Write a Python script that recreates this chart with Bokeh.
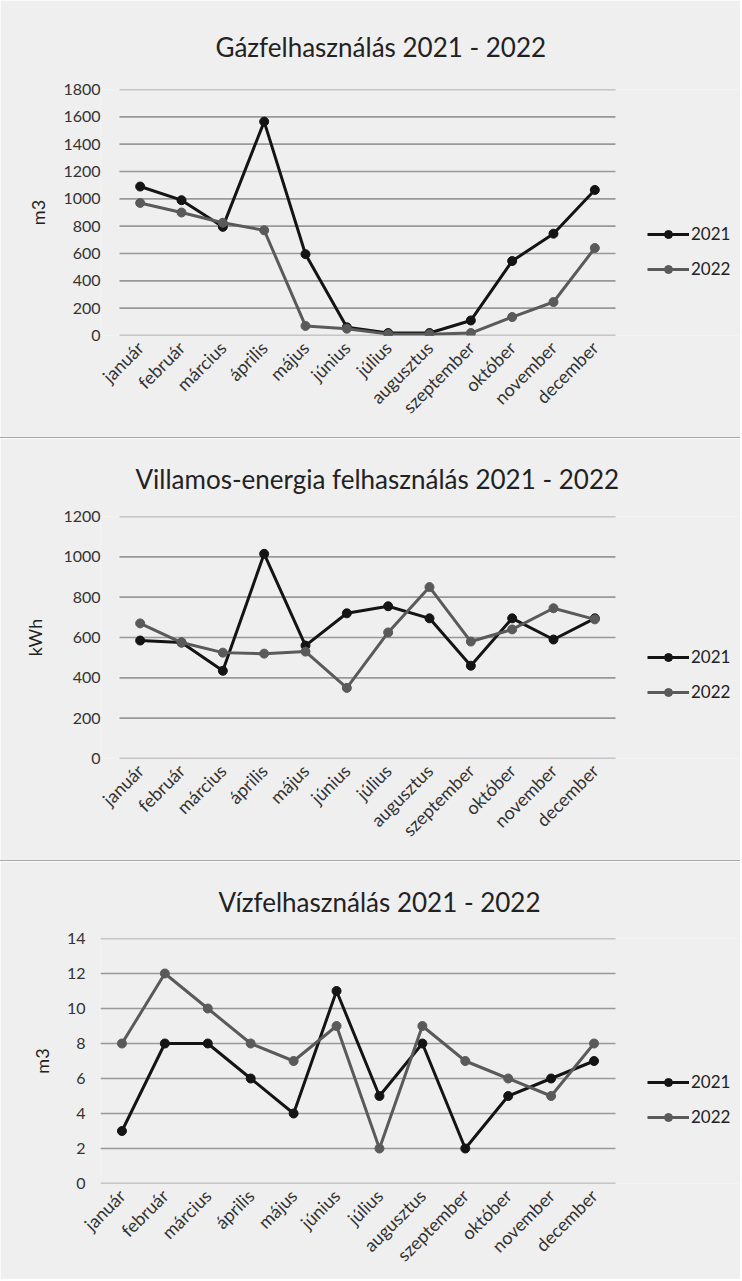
from bokeh.plotting import figure
from bokeh.models import Range1d, FixedTicker, Legend, LegendItem
from bokeh.layouts import column
from bokeh.embed import file_html
from bokeh.resources import INLINE
from math import pi

months = ["január", "február", "március", "április", "május", "június",
          "július", "augusztus", "szeptember", "október", "november", "december"]

gas_2021 = [1090, 990, 795, 1565, 595, 60, 18, 18, 110, 545, 745, 1065]
gas_2022 = [970, 900, 825, 770, 70, 50, 10, 10, 18, 135, 245, 640]

elec_2021 = [585, 575, 435, 1015, 560, 720, 755, 695, 460, 695, 590, 695]
elec_2022 = [670, 575, 525, 520, 530, 350, 625, 850, 580, 640, 745, 690]

water_2021 = [3, 8, 8, 6, 4, 11, 5, 8, 2, 5, 6, 7]
water_2022 = [8, 12, 10, 8, 7, 9, 2, 9, 7, 6, 5, 8]

gas_ticks = [0, 200, 400, 600, 800, 1000, 1200, 1400, 1600, 1800]
elec_ticks = [0, 200, 400, 600, 800, 1000, 1200]
water_ticks = [0, 2, 4, 6, 8, 10, 12, 14]

titles = ["Gázfelhasználás 2021 - 2022",
          "Villamos-energia felhasználás 2021 - 2022",
          "Vízfelhasználás 2021 - 2022"]
units = ["m3", "kWh", "m3"]
series_names = ["2021", "2022"]

FONT = "Lato"
BG = "#efefef"
C21 = "#141414"
C22 = "#5a5a5a"
W = 740
FRAME_LEFT = 100
PLOT_RIGHT = 615  # x of right end of the gridlines


def make_chart(title, unit, s21, s22, ticks, height, data_left, b_top, b_bottom,
               title_left, standoff, lab_standoff, tick_standoff, top_border):
    xs = list(range(1, len(months) + 1))
    px_per_unit = (PLOT_RIGHT - data_left) / len(months)
    x_start = 0.5 - (data_left - FRAME_LEFT) / px_per_unit
    x_end = 0.5 + (W - data_left) / px_per_unit

    kw = {}
    if top_border:
        kw["styles"] = {"border-top": "1px solid #a8a8a8"}
    p = figure(width=W, height=height, x_range=Range1d(x_start, x_end),
               y_range=Range1d(ticks[0], ticks[-1]), output_backend="svg",
               toolbar_location=None,
               min_border_left=FRAME_LEFT, min_border_right=0,
               min_border_top=b_top, min_border_bottom=b_bottom, **kw)
    p.background_fill_color = BG
    p.border_fill_color = BG
    p.outline_line_color = None

    p.title.text = title
    p.title.align = "left"
    p.title.offset = title_left - FRAME_LEFT
    p.title.text_font = FONT
    p.title.text_font_size = "26px"
    p.title.text_font_style = "normal"
    p.title.text_color = "#222222"
    p.title.standoff = standoff

    p.yaxis.ticker = FixedTicker(ticks=ticks)
    p.yaxis.axis_line_color = None
    p.yaxis.major_tick_line_color = None
    p.yaxis.minor_tick_line_color = None
    p.yaxis.major_tick_out = 0
    p.yaxis.major_label_standoff = tick_standoff
    p.yaxis.major_label_text_font = FONT
    p.yaxis.major_label_text_font_size = "16px"
    p.yaxis.major_label_text_color = "#333333"
    p.yaxis.axis_label = unit
    p.yaxis.axis_label_text_font = FONT
    p.yaxis.axis_label_text_font_size = "18px"
    p.yaxis.axis_label_text_font_style = "normal"
    p.yaxis.axis_label_text_color = "#222222"
    p.yaxis.axis_label_standoff = lab_standoff

    p.xaxis.ticker = FixedTicker(ticks=xs)
    p.xaxis.major_label_overrides = {x: m for x, m in zip(xs, months)}
    p.xaxis.axis_line_color = None
    p.xaxis.major_tick_line_color = None
    p.xaxis.minor_tick_line_color = None
    p.xaxis.major_tick_out = 0
    p.xaxis.major_label_orientation = pi / 4
    p.xaxis.major_label_standoff = 9
    p.xaxis.major_label_text_font = FONT
    p.xaxis.major_label_text_font_size = "18px"
    p.xaxis.major_label_text_color = "#333333"

    p.xgrid.grid_line_color = None
    p.ygrid.grid_line_color = None
    p.segment(x0=[0.5] * len(ticks), y0=ticks, x1=[len(months) + 0.5] * len(ticks),
              y1=ticks, line_color="#999999", line_width=1.6)

    items = []
    for name, vals, col in [(series_names[0], s21, C21), (series_names[1], s22, C22)]:
        l = p.line(xs, vals, line_color=col, line_width=3)
        c = p.scatter(xs, vals, size=9, fill_color=col, line_color=col)
        items.append(LegendItem(label=name, renderers=[l, c]))

    leg = Legend(items=items, location=(PLOT_RIGHT + 32 - FRAME_LEFT, 56))
    leg.background_fill_alpha = 0
    leg.border_line_color = None
    leg.padding = 0
    leg.margin = 0
    leg.spacing = 14
    leg.glyph_width = 42
    leg.glyph_height = 20
    leg.label_height = 20
    leg.label_standoff = 2
    leg.label_text_font = FONT
    leg.label_text_font_size = "17px"
    leg.label_text_color = "#222222"
    p.add_layout(leg, "center")
    return p


p1 = make_chart(titles[0], units[0], gas_2021, gas_2022, gas_ticks,
                437, 119, 89, 102, 215, 54, 11, 0, False)
p2 = make_chart(titles[1], units[1], elec_2021, elec_2022, elec_ticks,
                423, 119, 76, 103, 135, 44, 14, 0, True)
p3 = make_chart(titles[2], units[2], water_2021, water_2022, water_ticks,
                419, 100, 77, 97, 218, 42, 11, 15, True)

layout = column(p1, p2, p3, spacing=0)
open("out.html", "w").write(file_html(layout, INLINE))
